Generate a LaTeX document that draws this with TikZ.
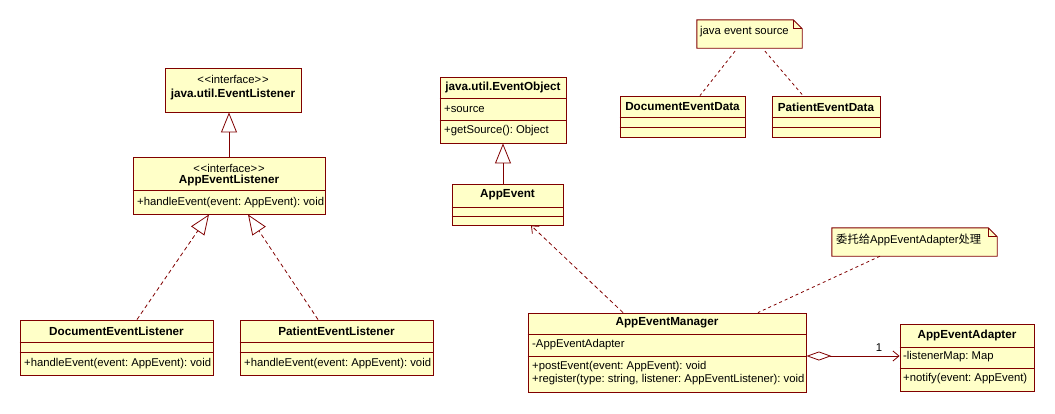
\documentclass[tikz,border=0pt]{standalone}
\usepackage{fontspec}
\setmainfont{Liberation Sans}
\newfontfamily\cjk{Noto Sans CJK SC}
\usetikzlibrary{arrows.meta,fit}
\frenchspacing

\definecolor{umlfill}{RGB}{255,255,200}
\definecolor{umlline}{RGB}{128,0,0}

\tikzset{
  x=1pt, y=-1pt,
  every node/.style={font=\fontsize{11.3}{13}\selectfont, inner sep=0pt},
  cls/.style={draw=umlline, fill=umlfill, line width=0.9pt},
  sep/.style={draw=umlline, line width=0.9pt},
  title/.style={font=\fontsize{11.7}{13}\selectfont\bfseries},
  member/.style={anchor=west},
  conn/.style={draw=umlline, line width=0.8pt},
  inherit/.style={conn, -{Triangle[open, length=20pt, width=16pt, line width=0.8pt]}},
  realize/.style={inherit, dash pattern=on 4pt off 3pt},
  depend/.style={conn, dash pattern=on 4pt off 3pt, -{Straight Barb[length=6pt, width=10pt, line width=0.8pt]}},
  notelink/.style={conn, dash pattern=on 3pt off 3pt},
  aggr/.style={conn, {Diamond[open, length=25pt, width=9pt, line width=0.8pt]}-{Straight Barb[length=6pt, width=10pt, line width=0.8pt]}},
}

% class box: name, left, top, right, bottom
\newcommand\umlbox[5]{\node[cls, fit={(#2,#3) (#4,#5)}] (#1) {};}
% compartment divider of a class at height #2
\newcommand\umlsep[2]{\draw[sep] (#1.west |- 0,#2) -- (#1.east |- 0,#2);}
% note: name, left, top, right, bottom
\newcommand\umlnote[5]{%
  \node[fit={(#2,#3) (#4,#5)}] (#1) {};
  \filldraw[cls] (#1.south west) -- (#1.north west) -- ([xshift=-9pt]#1.north east)
    -- ([yshift=-9pt]#1.north east) -- (#1.south east) -- cycle;
  \draw[sep] ([xshift=-9pt]#1.north east) |- ([yshift=-9pt]#1.north east);}
\newcommand\stereo{<\kern0.8pt<interface>\kern0.8pt>}

\begin{document}
\begin{tikzpicture}
\useasboundingbox (0,0) rectangle (1055,413);

% ---- listener interfaces ----
\umlbox{el}{165}{68}{301}{112}
\node (elS) at (el.north |- 0,79) {\stereo};
\node[title] (elT) at (el.north |- 0,94) {java.util.EventListener};

\umlbox{ael}{133}{157}{325}{214}
\umlsep{ael}{190}
\node (aelS) at (ael.north |- 0,168) {\stereo};
\node[title] (aelT) at (ael.north |- 0,180) {AppEventListener};
\node[member] (aelM) at (137,203) {+handleEvent(event: AppEvent): void};

\umlbox{del}{20}{320}{213}{375}
\umlsep{del}{342}\umlsep{del}{352}
\node[title] (delT) at (del.north |- 0,331) {DocumentEventListener};
\node[member] (delM) at (24,364) {+handleEvent(event: AppEvent): void};

\umlbox{pel}{240}{320}{433}{375}
\umlsep{pel}{342}\umlsep{pel}{352}
\node[title] (pelT) at (pel.north |- 0,331) {PatientEventListener};
\node[member] (pelM) at (244,364) {+handleEvent(event: AppEvent): void};

% ---- event classes ----
\umlbox{eo}{440}{77}{566}{143}
\umlsep{eo}{98}\umlsep{eo}{120}
\node[title] (eoT) at (eo.north |- 0,87) {java.util.EventObject};
\node[member] (eoA) at (444,109) {+source};
\node[member] (eoM) at (444,131) {+getSource(): Object};

\umlbox{ae}{452}{184}{563}{225}
\umlsep{ae}{207}\umlsep{ae}{216}
\node[title] (aeT) at (ae.north |- 0,195) {AppEvent};

% ---- event data ----
\umlnote{n1}{697}{20}{802}{48}
\node[member] (n1T) at (700,32) {java event source};

\umlbox{ded}{620}{96}{745}{137}
\umlsep{ded}{117}\umlsep{ded}{127}
\node[title] (dedT) at (ded.north |- 0,107) {DocumentEventData};

\umlbox{ped}{772}{96}{880}{137}
\umlsep{ped}{117}\umlsep{ped}{127}
\node[title] (pedT) at (ped.north |- 0,107) {PatientEventData};

% ---- manager and adapter ----
\umlnote{n2}{832}{228}{997}{256}
\node[member] (n2T) at (836,240) {{\cjk 委托给}AppEventAdapter{\cjk 处理}};

\umlbox{aem}{528}{313}{806}{392}
\umlsep{aem}{334}\umlsep{aem}{356}
\node[title] (aemT) at (aem.north |- 0,323) {AppEventManager};
\node[member] (aemA) at (532,345) {-AppEventAdapter};
\node[member] (aemM1) at (532,367) {+postEvent(event: AppEvent): void};
\node[member] (aemM2) at (532,380) {+register(type: string, listener: AppEventListener): void};

\umlbox{aea}{900}{324}{1034}{391}
\umlsep{aea}{347}\umlsep{aea}{368}
\node[title] (aeaT) at (aea.north |- 0,335) {AppEventAdapter};
\node[member] (aeaA) at (903,357) {-listenerMap: Map};
\node[member] (aeaM) at (903,379) {+notify(event: AppEvent)};

% ---- relations ----
\draw[inherit] (ael.north) -- (ael.north |- el.south);
\draw[realize] ([xshift=20.5pt]del.north) -- ([xshift=-20pt]ael.south);
\draw[realize] ([xshift=-18.5pt]pel.north) -- ([xshift=19pt]ael.south);
\draw[inherit] (eo.south |- ae.north) -- (eo.south);
\draw[depend] ([xshift=-44pt]aem.north) -- ([xshift=23.5pt]ae.south);
\draw[notelink] ([xshift=-14.5pt,yshift=-3pt]n1.south) -- ([xshift=17.5pt]ded.north);
\draw[notelink] ([xshift=15.5pt,yshift=-3pt]n1.south) -- ([xshift=-23pt]ped.north);
\draw[notelink] ([xshift=-34.5pt]n2.south) -- ([xshift=91pt]aem.north);
\draw[aggr] ([yshift=-3.5pt]aem.east) -- ([yshift=-3.5pt]aem.east -| aea.west)
  node[pos=0.78, above=4pt] (mult) {1};
\end{tikzpicture}
\end{document}
